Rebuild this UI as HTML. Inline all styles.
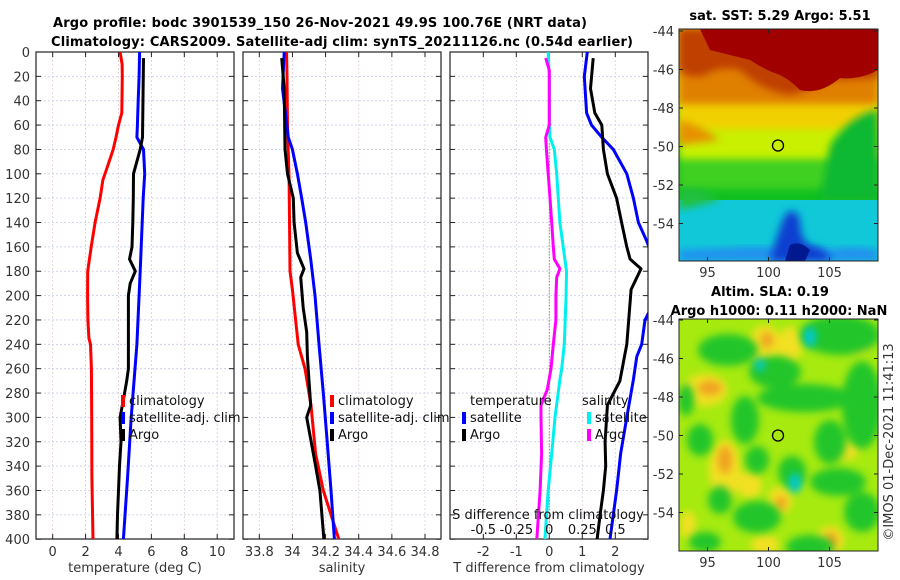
<!DOCTYPE html>
<html><head><meta charset="utf-8">
<style>
html,body{margin:0;padding:0;background:#fff;}
svg{display:block;font-family:"DejaVu Sans","Liberation Sans",sans-serif;}
.tl{font-size:13px;fill:#333;}
.tt{font-size:13px;font-weight:bold;fill:#000;}
.lg{font-size:13px;fill:#111;}
</style></head>
<body>
<svg id="fig" width="900" height="580" viewBox="0 0 900 580" xmlns="http://www.w3.org/2000/svg">
<defs>
<filter id="bl" x="-20%" y="-20%" width="140%" height="140%"><feGaussianBlur stdDeviation="4"/></filter>
<filter id="bl2" x="-20%" y="-20%" width="140%" height="140%"><feGaussianBlur stdDeviation="4"/></filter>
<clipPath id="cm1"><rect x="679" y="29" width="199" height="232"/></clipPath>
<clipPath id="cm2"><rect x="679" y="319" width="199" height="232"/></clipPath>
<clipPath id="cp1"><rect x="36" y="52" width="198" height="487"/></clipPath>
<clipPath id="cp2"><rect x="243" y="52" width="198" height="487"/></clipPath>
<clipPath id="cp3"><rect x="450" y="52" width="198" height="487"/></clipPath>
</defs>
<text class="tt" x="53" y="27" textLength="534">Argo profile: bodc 3901539_150 26-Nov-2021 49.9S 100.76E (NRT data)</text>
<text class="tt" x="51" y="46" textLength="582">Climatology: CARS2009. Satellite-adj clim: synTS_20211126.nc (0.54d earlier)</text>

<!-- top map: SST -->
<g clip-path="url(#cm1)">
<rect x="679" y="29" width="199" height="232" fill="#00c8c8"/>
<rect x="679" y="29" width="199" height="200" fill="#10c020"/>
<rect x="679" y="29" width="199" height="160" fill="#40d020" filter="url(#bl)"/>
<rect x="679" y="29" width="199" height="130" fill="#c8f000" filter="url(#bl)"/>
<rect x="679" y="29" width="199" height="100" fill="#f0d000" filter="url(#bl)"/>
<rect x="679" y="29" width="199" height="75" fill="#e08000" filter="url(#bl)"/>
<path d="M830,145 Q850,115 878,110 V200 H820 Z" fill="#10b830" filter="url(#bl)"/>
<path d="M679,120 Q700,125 720,140 L679,145 Z" fill="#e89000" filter="url(#bl)"/>
<path d="M679,29 V70 Q690,80 705,75 Q720,65 740,70 Q760,90 790,95 Q810,90 830,80 L878,78 V29 Z" fill="#c04000" filter="url(#bl)"/>
<path d="M700,29 H878 V70 Q860,80 840,78 Q820,95 800,90 Q790,80 780,75 Q765,70 750,60 Q730,55 710,50 Z" fill="#a00000"/>
<rect x="679" y="200" width="199" height="61" fill="#10c8d8"/>
<path d="M679,190 Q700,185 720,200 L679,210Z" fill="#20c040" filter="url(#bl)"/>
<path d="M679,250 V261 H878 V250 Q850,245 830,250 Q810,245 790,250 Q760,245 730,248 Z" fill="#2090f0" filter="url(#bl)"/>
<path d="M785,215 Q795,205 800,220 Q800,240 810,245 Q830,250 830,261 H770 Q775,240 785,215Z" fill="#1040d0" filter="url(#bl)"/>
<path d="M790,245 Q800,240 810,250 L805,261 H785Z" fill="#001890"/>
</g>
<rect x="679" y="29" width="199" height="232" fill="none" stroke="#222" stroke-width="1"/>
<circle cx="778" cy="145.5" r="5.5" fill="none" stroke="#000" stroke-width="1.3"/>
<text class="tt" x="780" y="20" text-anchor="middle">sat. SST: 5.29 Argo: 5.51</text>

<!-- bottom map: SLA -->
<g clip-path="url(#cm2)">
<rect x="679" y="319" width="199" height="232" fill="#a6ea10"/>
<g filter="url(#bl2)" fill="#f2e020">
<ellipse cx="705" cy="390" rx="22" ry="16"/>
<ellipse cx="725" cy="470" rx="16" ry="30"/>
<ellipse cx="765" cy="345" rx="16" ry="20"/>
<ellipse cx="790" cy="345" rx="12" ry="18"/>
<ellipse cx="780" cy="500" rx="12" ry="14"/>
<ellipse cx="750" cy="485" rx="12" ry="14"/>
<ellipse cx="830" cy="540" rx="14" ry="14"/>
<ellipse cx="765" cy="545" rx="14" ry="10"/>
<ellipse cx="688" cy="525" rx="8" ry="14"/>
<ellipse cx="845" cy="450" rx="14" ry="10"/>
<ellipse cx="860" cy="340" rx="10" ry="14"/>
</g>
<g filter="url(#bl2)" fill="#f0a020">
<ellipse cx="725" cy="460" rx="7" ry="14"/>
<ellipse cx="710" cy="388" rx="12" ry="7"/>
<ellipse cx="767" cy="340" rx="6" ry="8"/>
<ellipse cx="781" cy="503" rx="5" ry="7"/>
<ellipse cx="831" cy="540" rx="6" ry="8"/>
</g>
<g filter="url(#bl2)" fill="#22c62a">
<ellipse cx="728" cy="350" rx="30" ry="16"/>
<ellipse cx="840" cy="335" rx="40" ry="20"/>
<ellipse cx="775" cy="372" rx="26" ry="16"/>
<ellipse cx="805" cy="398" rx="48" ry="14"/>
<ellipse cx="745" cy="420" rx="14" ry="24"/>
<ellipse cx="862" cy="405" rx="20" ry="44"/>
<ellipse cx="830" cy="442" rx="16" ry="22"/>
<ellipse cx="700" cy="440" rx="13" ry="16"/>
<ellipse cx="757" cy="460" rx="12" ry="14"/>
<ellipse cx="792" cy="472" rx="14" ry="16"/>
<ellipse cx="838" cy="482" rx="28" ry="14"/>
<ellipse cx="720" cy="500" rx="12" ry="14"/>
<ellipse cx="757" cy="517" rx="24" ry="16"/>
<ellipse cx="862" cy="512" rx="18" ry="20"/>
<ellipse cx="810" cy="547" rx="24" ry="12"/>
<ellipse cx="705" cy="542" rx="16" ry="10"/>
<ellipse cx="686" cy="400" rx="8" ry="16"/>
</g>
<g filter="url(#bl)" fill="#00c8d8">
<ellipse cx="810" cy="337" rx="6" ry="10"/>
<ellipse cx="795" cy="483" rx="6" ry="10"/>
<ellipse cx="760" cy="365" rx="5" ry="6"/>
</g>
</g>
<rect x="679" y="319" width="199" height="232" fill="none" stroke="#222" stroke-width="1"/>
<circle cx="778" cy="435.5" r="5.5" fill="none" stroke="#000" stroke-width="1.3"/>
<text class="tt" x="770" y="296" text-anchor="middle">Altim. SLA: 0.19</text>
<text class="tt" x="779" y="315" text-anchor="middle">Argo h1000: 0.11 h2000: NaN</text>
<text class="tl" transform="translate(893,442) rotate(-90)" text-anchor="middle">©IMOS 01-Dec-2021 11:41:13</text>

<g id="plots"></g>
</svg>
<script>
// ---- data ----
const depthTicks=[0,20,40,60,80,100,120,140,160,180,200,220,240,260,280,300,320,340,360,380,400];
const tempTicks=[0,2,4,6,8,10];
const salTicks=[33.8,34,34.2,34.4,34.6,34.8];
const tdiffTicks=[-2,-1,0,1,2];
const sdiffTickLabels=["-0.5","-0.25","0","0.25","0.5"];
const sdiffTicks=[-0.5,-0.25,0,0.25,0.5];
const latTicks=[-44,-46,-48,-50,-52,-54];
const lonTicks=[95,100,105];

const tClimDepth=[0,10,20,50,60,70,80,95,105,120,140,160,180,200,220,235,240,260,300,350,400];
const tClimVal=[4.1,4.22,4.23,4.2,4.0,3.85,3.68,3.31,3.05,2.88,2.58,2.34,2.13,2.12,2.14,2.2,2.3,2.35,2.37,2.38,2.45];
const tSatDepth=[0,20,40,60,70,80,100,120,180,240,300,350,400];
const tSatVal=[5.28,5.25,5.2,5.15,5.12,5.52,5.59,5.5,5.32,5.12,4.77,4.55,4.3];
const tArgoDepth=[5,70,80,100,120,140,160,170,180,190,200,260,270,280,300,320,340,380,400];
const tArgoVal=[5.52,5.46,5.32,4.91,4.9,4.87,4.82,4.67,5.02,4.71,4.6,4.6,4.5,4.37,4.1,4.15,4.06,3.94,3.9];

const sClimDepth=[0,20,60,105,180,195,240,260,290,330,360,400];
const sClimVal=[33.965,33.967,33.97,33.98,33.985,34.0,34.035,34.076,34.112,34.14,34.186,34.28];
const sSatDepth=[0,30,70,80,100,120,140,170,200,240,280,320,360,400];
const sSatVal=[33.95,33.94,33.975,34.0,34.03,34.056,34.08,34.11,34.136,34.16,34.186,34.21,34.233,34.253];
const sArgoDepth=[5,30,80,100,120,140,165,178,185,210,230,250,270,290,300,340,360,400];
const sArgoVal=[33.935,33.95,33.955,33.97,34.005,34.01,34.03,34.07,34.05,34.065,34.086,34.09,34.1,34.11,34.086,34.14,34.166,34.19];

const dTSatDepth=[0,20,50,60,70,80,100,120,140,155,162];
const dTSatVal=[1.15,1.06,1.13,1.28,1.59,1.94,2.35,2.55,2.7,2.95,3.05];
const dTSatDepth2=[212,220,240,250,269,300,330,360,400];
const dTSatVal2=[3.05,2.9,2.8,2.65,2.55,2.35,2.16,2.04,1.84];
const dTArgoDepth=[5,30,50,60,80,100,120,140,160,170,178,195,240,270,290,320,340,360,380,400];
const dTArgoVal=[1.33,1.25,1.38,1.59,1.64,1.76,2.04,2.19,2.35,2.45,2.78,2.48,2.35,2.14,1.76,1.69,1.71,1.64,1.54,1.45];
const dSSatDepth=[0,20,60,70,80,100,140,180,200,240,260,269,300,330,360,400];
const dSSatVal=[-0.008,0,0,0.005,0.038,0.056,0.08,0.13,0.127,0.114,0.094,0.08,0.043,0.018,-0.008,-0.033];
const dSArgoDepth=[5,15,60,70,80,100,120,140,160,170,178,185,200,220,240,260,277,290,300,330,360,400];
const dSArgoVal=[-0.027,0,0,-0.027,-0.022,-0.008,0.005,0.018,0.03,0.038,0.08,0.056,0.05,0.05,0.03,0.013,-0.015,-0.063,-0.063,-0.058,-0.07,-0.095];

// ---- scales ----
const yD=d=>52+d*1.218;
const xT=v=>52.7+v*16.45;
const xS=v=>259.3+(v-33.8)*165.7;
const xDT=v=>549.3+v*33;
const xDS=v=>549.3+v*132;
const yLat1=v=>31+(-44-v)*19.25;
const yLat2=v=>320+(-44-v)*19.25;
const xLon=v=>707.5+(v-95)*12.2;

const NS="http://www.w3.org/2000/svg";
const root=document.getElementById('plots');
function mk(tag,attrs,parent){const e=document.createElementNS(NS,tag);for(const k in attrs)e.setAttribute(k,attrs[k]);(parent||root).appendChild(e);return e;}

function panel(x0,x1,name,xTicks,xf,xLabels,xTitle,showY){
  const g=mk('g',{});
  
  
  depthTicks.forEach(d=>{const l=mk('line',{x1:x0,x2:x1,y1:yD(d),y2:yD(d),stroke:'#c6cbe8','stroke-width':0.8,'stroke-dasharray':'2,2'},g);
    });
  xTicks.forEach(v=>{const l=mk('line',{x1:xf(v),x2:xf(v),y1:52,y2:539,stroke:'#e2cccc','stroke-width':0.8,'stroke-dasharray':'2,2'},g);
    });
  depthTicks.forEach(d=>{
    mk('line',{x1:x0,x2:x0+5,y1:yD(d),y2:yD(d),stroke:'#222'},g);
    mk('line',{x1:x1-5,x2:x1,y1:yD(d),y2:yD(d),stroke:'#222'},g);
    if(showY){const t=mk('text',{x:x0-6,y:yD(d)+5,'text-anchor':'end',class:'tl'},g);t.textContent=d;
      }
  });
  xTicks.forEach((v,i)=>{
    mk('line',{x1:xf(v),x2:xf(v),y1:539,y2:534,stroke:'#222'},g);
    mk('line',{x1:xf(v),x2:xf(v),y1:52,y2:57,stroke:'#222'},g);
    const t=mk('text',{x:xf(v),y:556,'text-anchor':'middle',class:'tl'},g);t.textContent=xLabels[i];
    
  });
  const r=mk('rect',{x:x0,y:52,width:x1-x0,height:487,fill:'none',stroke:'#222','stroke-width':1.2},g);
  
  const tt=mk('text',{x:(x0+x1)/2,y:572,'text-anchor':'middle',class:'tl'},g);tt.textContent=xTitle;
  
}
function line(depths,vals,xf,color,clip,name,w){
  const pts=depths.map((d,i)=>xf(vals[i]).toFixed(1)+','+yD(d).toFixed(1)).join(' ');
  const p=mk('polyline',{points:pts,fill:'none',stroke:color,'stroke-width':w||3,'stroke-linejoin':'round','clip-path':'url(#'+clip+')'});
  
  
}
function legend(x,y,color,label,name){
  const r=mk('rect',{x:x-2,y:y-10,width:4,height:12,fill:color});
  
  const t=mk('text',{x:x+6,y:y,class:'lg'});t.textContent=label;
  
}

panel(36,234,'temperature-panel',tempTicks,xT,tempTicks.map(String),'temperature (deg C)',true);
panel(243,441,'salinity-panel',salTicks,xS,salTicks.map(String),'salinity',false);
panel(450,648,'difference-panel',tdiffTicks,xDT,tdiffTicks.map(String),'T difference from climatology',false);

line(tClimDepth,tClimVal,xT,'#ff0000','cp1','temp-climatology-line');
line(tSatDepth,tSatVal,xT,'#0000ff','cp1','temp-satellite-line');
line(tArgoDepth,tArgoVal,xT,'#000000','cp1','temp-argo-line');
line(sClimDepth,sClimVal,xS,'#ff0000','cp2','sal-climatology-line');
line(sSatDepth,sSatVal,xS,'#0000ff','cp2','sal-satellite-line');
line(sArgoDepth,sArgoVal,xS,'#000000','cp2','sal-argo-line');

const z=mk('line',{x1:xDT(0),x2:xDT(0),y1:yD(75),y2:539,stroke:'#555','stroke-width':1,'stroke-dasharray':'1,2'});

line(dTSatDepth,dTSatVal,xDT,'#0000ff','cp3','tdiff-satellite-line');
line(dTSatDepth2,dTSatVal2,xDT,'#0000ff','cp3','tdiff-satellite-line-lower');
line(dTArgoDepth,dTArgoVal,xDT,'#000000','cp3','tdiff-argo-line');
line(dSSatDepth,dSSatVal,xDS,'#00f0f0','cp3','sdiff-satellite-line');
line(dSArgoDepth,dSArgoVal,xDS,'#ff00ff','cp3','sdiff-argo-line');

legend(123,405,'#ff0000','climatology','legend-t-climatology');
legend(123,422,'#0000ff','satellite-adj. clim','legend-t-satellite');
legend(123,439,'#000000','Argo','legend-t-argo');
legend(332,405,'#ff0000','climatology','legend-s-climatology');
legend(332,422,'#0000ff','satellite-adj. clim','legend-s-satellite');
legend(332,439,'#000000','Argo','legend-s-argo');
let t=mk('text',{x:470,y:405,class:'lg'});t.textContent='temperature';

t=mk('text',{x:582,y:405,class:'lg'});t.textContent='salinity';

legend(464,422,'#0000ff','satellite','legend-dt-satellite');
legend(464,439,'#000000','Argo','legend-dt-argo');
legend(589,422,'#00f0f0','satellite','legend-ds-satellite');
legend(589,439,'#ff00ff','Argo','legend-ds-argo');
t=mk('text',{x:548,y:519,'text-anchor':'middle',class:'lg'});t.textContent='S difference from climatology';

sdiffTicks.forEach((v,i)=>{const e=mk('text',{x:xDS(v),y:534,'text-anchor':'middle',class:'lg'});e.textContent=sdiffTickLabels[i];
  });

// map axes
function mapAxes(yf,yTop,yBot,name){
  latTicks.forEach(v=>{
    mk('line',{x1:679,x2:683,y1:yf(v),y2:yf(v),stroke:'#222'});
    mk('line',{x1:874,x2:878,y1:yf(v),y2:yf(v),stroke:'#222'});
    const e=mk('text',{x:674,y:yf(v)+5,'text-anchor':'end',class:'tl'});e.textContent=v;
    
  });
  lonTicks.forEach(v=>{
    mk('line',{x1:xLon(v),x2:xLon(v),y1:yBot,y2:yBot-4,stroke:'#222'});
    mk('line',{x1:xLon(v),x2:xLon(v),y1:yTop,y2:yTop+4,stroke:'#222'});
    const e=mk('text',{x:xLon(v),y:yBot+16,'text-anchor':'middle',class:'tl'});e.textContent=v;
    
  });
}
mapAxes(yLat1,29,261,'sst-map');
mapAxes(yLat2,319,551,'sla-map');
</script>
</body></html>
